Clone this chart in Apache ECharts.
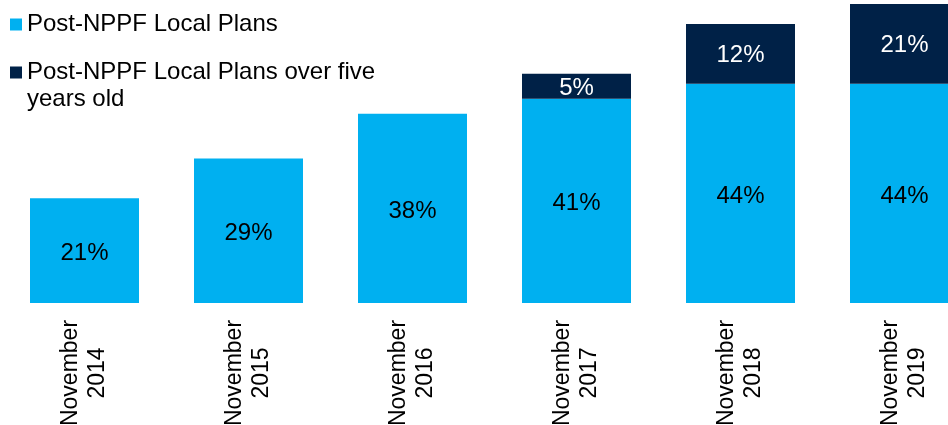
<!DOCTYPE html>
<html>
<head>
<meta charset="utf-8">
<script src="https://cdn.jsdelivr.net/npm/echarts@6/dist/echarts.min.js"></script>
<style>
  html, body { margin: 0; padding: 0; background: #ffffff; }
  #chart { width: 948px; height: 425px; }
</style>
</head>
<body>
<div id="chart"></div>
<script>
// categories and values
const categories = ['November\n2014', 'November\n2015', 'November\n2016', 'November\n2017', 'November\n2018', 'November\n2019']
const localPlans = [21, 29, 38, 41, 44, 44]
const oldPlans = [null, null, null, 5, 12, 21]

const seriesNames = ['Post-NPPF Local Plans', 'Post-NPPF Local Plans over five\nyears old']
const font = 'Liberation Sans, Arial, sans-serif'

const chart = echarts.init(document.getElementById('chart'))

chart.setOption({
    backgroundColor: '#ffffff',
    animation: false,
    legend: [{
        data: [seriesNames[0]],
        left: 10,
        top: 11,
        padding: 0,
        icon: 'rect',
        itemWidth: 12,
        itemHeight: 12,
        textStyle: { fontFamily: font, fontSize: 24, lineHeight: 27, color: '#000' }
    }, {
        data: [seriesNames[1]],
        left: 10,
        top: 32,
        padding: 0,
        icon: 'rect',
        itemWidth: 12,
        itemHeight: 12,
        // empty first line so the marker sits on the first real line
        formatter: name => '\n' + name,
        textStyle: { fontFamily: font, fontSize: 24, lineHeight: 27, color: '#000' }
    }],
    grid: {
        left: 2.5,
        right: -38.5,
        top: 4,
        bottom: 122,
        outerBoundsMode: 'none'
    },
    xAxis: {
        type: 'category',
        data: categories,
        axisLine: { show: false },
        axisTick: { show: false },
        axisLabel: {
            interval: 0,
            rotate: 90,
            align: 'center',
            margin: 70,
            fontFamily: font,
            fontSize: 23,
            lineHeight: 27,
            color: '#000',
            padding: [0, 0, 0, 0]
        }
    },
    yAxis: {
        type: 'value',
        min: 0,
        max: 60,
        show: false,
        splitLine: { show: false }
    },
    series: [{
        name: seriesNames[0],
        type: 'bar',
        stack: 'plans',
        barWidth: 109,
        data: localPlans,
        itemStyle: { color: '#00b0f0' },
        label: {
            show: true,
            position: 'inside',
            offset: [0, 3],
            formatter: '{c}%',
            fontFamily: font,
            fontSize: 24,
            color: '#000'
        }
    }, {
        name: seriesNames[1],
        type: 'bar',
        stack: 'plans',
        barWidth: 109,
        data: oldPlans,
        itemStyle: { color: '#002147' },
        label: {
            show: true,
            position: 'inside',
            offset: [0, 2],
            formatter: p => p.value == null ? '' : p.value + '%',
            fontFamily: font,
            fontSize: 24,
            color: '#fff'
        }
    }]
})
</script>
</body>
</html>
